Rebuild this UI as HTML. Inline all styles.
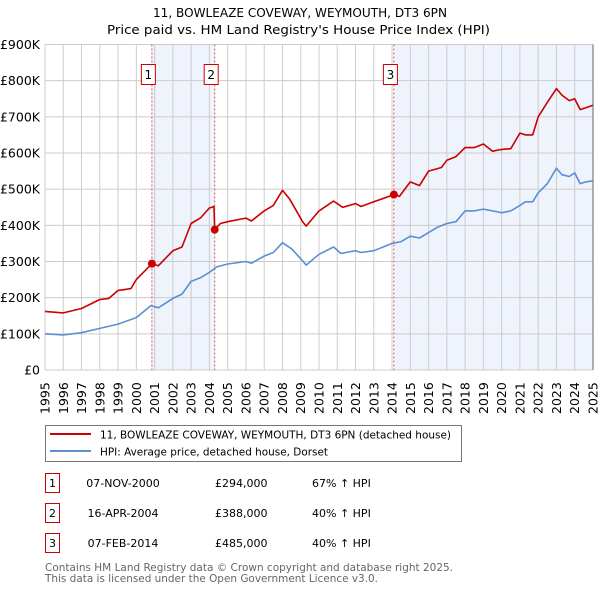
<!DOCTYPE html>
<html><head><meta charset="utf-8"><style>
body{margin:0;background:#fff;font-family:"DejaVu Sans","Liberation Sans",sans-serif;}
#wrap{position:relative;width:600px;height:590px;overflow:hidden}
svg{position:absolute;left:0;top:0;font-family:"DejaVu Sans","Liberation Sans",sans-serif}
</style></head><body>
<div id="wrap">
<svg id="svg" width="600" height="590"></svg>
</div>
<script>
const years=[1995,1996,1997,1998,1999,2000,2001,2002,2003,2004,2005,2006,2007,2008,2009,2010,2011,2012,2013,2014,2015,2016,2017,2018,2019,2020,2021,2022,2023,2024,2025];
const yTicks=[0,100000,200000,300000,400000,500000,600000,700000,800000,900000];
const yTickLabels=["£0","£100K","£200K","£300K","£400K","£500K","£600K","£700K","£800K","£900K"];
const hpiT=[1995,1996,1997,1998,1999,2000,2000.8,2001.2,2002,2002.5,2003,2003.5,2004,2004.4,2005,2006,2006.3,2007,2007.5,2008,2008.5,2009.1,2009.3,2010,2010.8,2011.2,2012,2012.3,2013,2014,2014.5,2015,2015.5,2016,2016.5,2017,2017.5,2018,2018.5,2019,2019.5,2020,2020.5,2021,2021.3,2021.7,2022,2022.5,2023,2023.3,2023.7,2024,2024.3,2024.6,2025];
const hpiV=[100000,97000,103000,115000,127000,145000,178000,172000,198000,210000,245000,255000,270000,285000,293000,300000,295000,315000,325000,352000,335000,302000,290000,320000,340000,322000,330000,325000,330000,350000,355000,370000,365000,380000,395000,405000,410000,440000,440000,445000,440000,435000,440000,455000,465000,465000,490000,515000,558000,540000,535000,545000,515000,520000,523000];
const redT=[1995,1996,1997,1998,1998.5,1999,1999.7,2000,2000.85,2001.2,2002,2002.5,2003,2003.5,2004,2004.25,2004.29,2004.6,2005,2006,2006.3,2007,2007.5,2008,2008.4,2009.1,2009.3,2010,2010.8,2011.3,2012,2012.3,2013,2014.1,2014.4,2015,2015.5,2016,2016.7,2017,2017.5,2018,2018.5,2019,2019.5,2020,2020.5,2021,2021.3,2021.7,2022,2022.5,2023,2023.3,2023.7,2024,2024.3,2024.6,2025];
const redV=[162000,158000,170000,195000,198000,220000,225000,250000,294000,288000,330000,340000,405000,420000,448000,452000,388000,405000,410000,420000,412000,440000,455000,497000,472000,410000,398000,440000,467000,450000,460000,452000,465000,485000,480000,520000,510000,550000,560000,580000,590000,615000,615000,625000,605000,610000,612000,655000,650000,650000,700000,740000,778000,760000,745000,750000,720000,725000,732000];
const saleT=[2000.85,2004.29,2014.1];
const saleV=[294000,388000,485000];
const saleLabels=["1","2","3"];

const X0=45,X1=593,Y0=370,Y1=44.5;
const xs=t=>X0+(t-1995)/30*(X1-X0);
const ys=v=>Y0-v/900000*(Y0-Y1);
const svg=document.getElementById('svg');
const NS='http://www.w3.org/2000/svg';
function mk(tag,attrs,parent){const e=document.createElementNS(NS,tag);for(const k in attrs)e.setAttribute(k,attrs[k]);(parent||svg).appendChild(e);return e;}

let s1=mk('rect',{x:xs(saleT[0]),y:Y1,width:xs(saleT[1])-xs(saleT[0]),height:Y0-Y1,fill:'#eef3fc'});


let s2=mk('rect',{x:xs(saleT[2]),y:Y1,width:X1-xs(saleT[2]),height:Y0-Y1,fill:'#eef3fc'});



years.forEach(y=>{const l=mk('line',{x1:xs(y),x2:xs(y),y1:Y1,y2:Y0,stroke:'#cccccc','stroke-width':1});

});
yTicks.forEach((v,i)=>{const l=mk('line',{x1:X0,x2:X1,y1:ys(v),y2:ys(v),stroke:'#cccccc','stroke-width':1});


const t=mk('text',{x:40,y:ys(v)+4.5,'text-anchor':'end','font-size':'12.5',fill:'#000'});t.textContent=yTickLabels[i];

});
years.forEach(y=>{const t=mk('text',{transform:`translate(${xs(y)+4.5},414) rotate(-90)`,'font-size':'12.5',fill:'#000'});t.textContent=y;

});
let rb=mk('line',{x1:X1,x2:X1,y1:Y1,y2:Y0,stroke:'#666','stroke-width':1});



saleT.forEach((t,i)=>{const l=mk('line',{x1:xs(t),x2:xs(t),y1:Y1,y2:Y0,stroke:'#e85050','stroke-width':1,'stroke-dasharray':'2,2'});


const g=mk('g',{});


mk('rect',{x:xs(t)-10.5,y:64.5,width:14,height:20,fill:'#fff',stroke:'#cc0000','stroke-width':1},g);
const tx=mk('text',{x:xs(t)-3.5,y:79,'text-anchor':'middle','font-size':'12',fill:'#000'},g);tx.textContent=saleLabels[i];});

function path(T,V,color,name){const d=T.map((t,i)=>(i?'L':'M')+xs(t).toFixed(1)+','+ys(V[i]).toFixed(1)).join('');
const p=mk('path',{d:d,fill:'none',stroke:color,'stroke-width':1.6,'stroke-linejoin':'round'});

}
path(hpiT,hpiV,'#5b8fd4','hpi-line');
path(redT,redV,'#cc0000','property-price-line');
saleT.forEach((t,i)=>{const c=mk('circle',{cx:xs(t),cy:ys(saleV[i]),r:4,fill:'#cc0000'});

});

[['11, BOWLEAZE COVEWAY, WEYMOUTH, DT3 6PN',17,153,447],["Price paid vs. HM Land Registry's House Price Index (HPI)",34,107,490]].forEach((a,i)=>{const t=mk('text',{x:a[2],y:a[1],'font-size':'12.5',fill:'#000',textLength:a[3]-a[2],lengthAdjust:'spacingAndGlyphs'});t.textContent=a[0];

});

const lg=mk('g',{});


mk('rect',{x:45.5,y:425.5,width:416,height:36,fill:'#fff',stroke:'#777','stroke-width':1},lg);
mk('line',{x1:50,x2:91,y1:434,y2:434,stroke:'#cc0000','stroke-width':2},lg);
mk('line',{x1:50,x2:91,y1:451,y2:451,stroke:'#5b8fd4','stroke-width':2},lg);
let lt1=mk('text',{x:100,y:438.5,'font-size':'11',fill:'#000',textLength:351,lengthAdjust:'spacingAndGlyphs'},lg);lt1.textContent='11, BOWLEAZE COVEWAY, WEYMOUTH, DT3 6PN (detached house)';
let lt2=mk('text',{x:100,y:455.5,'font-size':'11',fill:'#000',textLength:228,lengthAdjust:'spacingAndGlyphs'},lg);lt2.textContent='HPI: Average price, detached house, Dorset';

const rows=[['1','07-NOV-2000','£294,000','67% ↑ HPI'],['2','16-APR-2004','£388,000','40% ↑ HPI'],['3','07-FEB-2014','£485,000','40% ↑ HPI']];
rows.forEach((r,i)=>{const y=473+i*30;const g=mk('g',{});


mk('rect',{x:45.5,y:y+0.5,width:14,height:19,fill:'#fff',stroke:'#cc0000','stroke-width':1},g);
let a=mk('text',{x:52.5,y:y+14,'text-anchor':'middle','font-size':'11'},g);a.textContent=r[0];
let b=mk('text',{x:123,y:y+14,'text-anchor':'middle','font-size':'11'},g);b.textContent=r[1];
let c=mk('text',{x:215,y:y+14,'font-size':'11'},g);c.textContent=r[2];
let d=mk('text',{x:312,y:y+14,'font-size':'11'},g);d.textContent=r[3];});

[['Contains HM Land Registry data © Crown copyright and database right 2025.',571,408],['This data is licensed under the Open Government Licence v3.0.',582,333]].forEach((a,i)=>{const t=mk('text',{x:45,y:a[1],'font-size':'11',fill:'#666',textLength:a[2],lengthAdjust:'spacingAndGlyphs'});t.textContent=a[0];

});
</script>
</body></html>
